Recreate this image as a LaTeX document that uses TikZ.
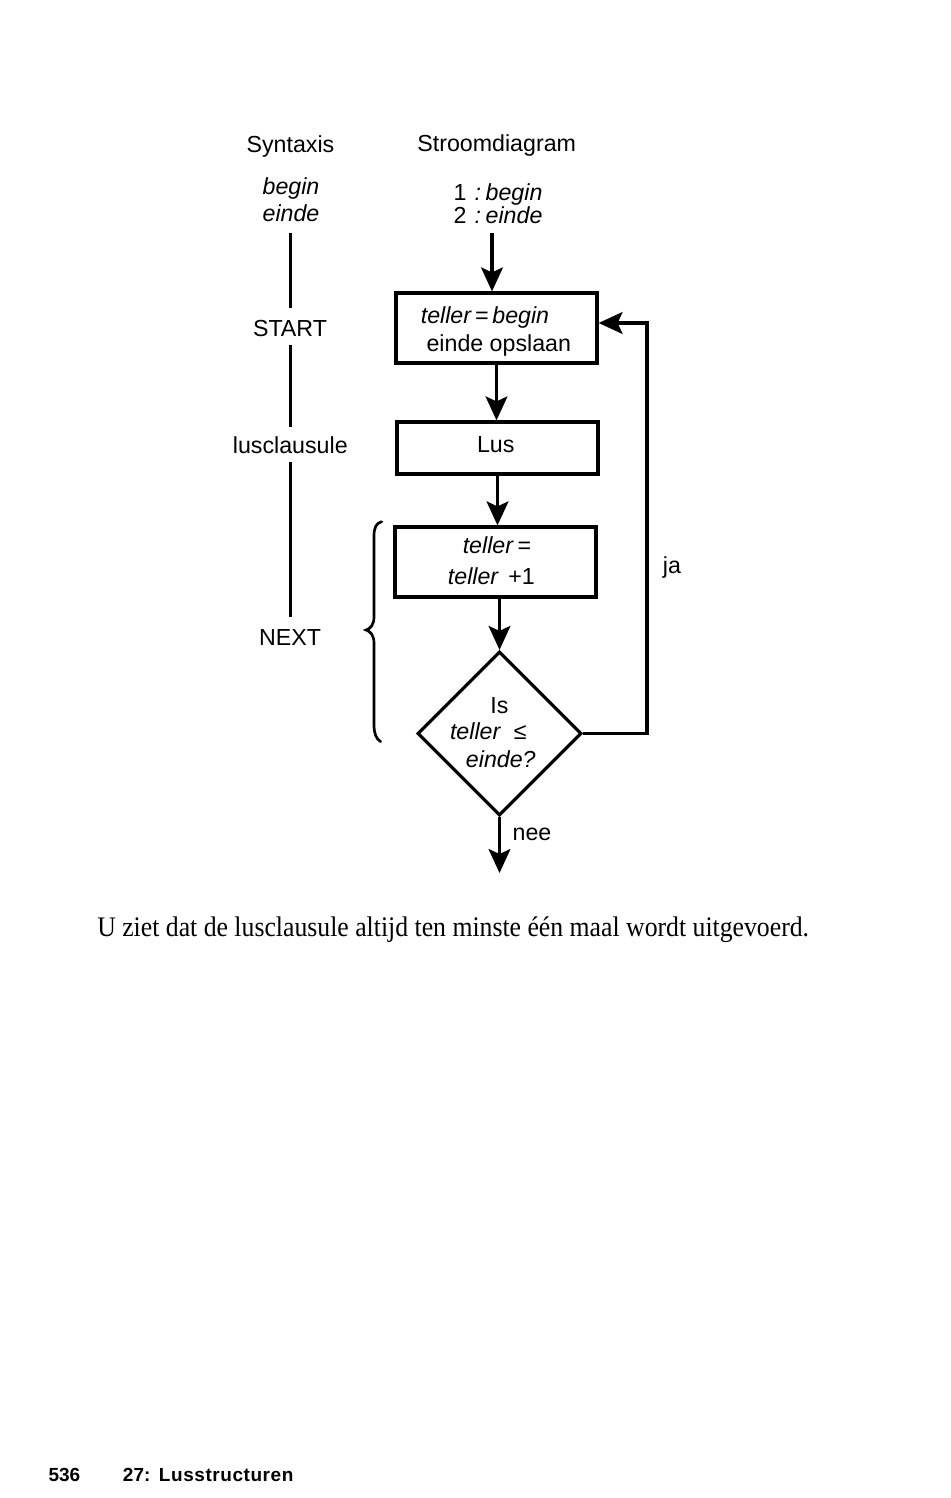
\documentclass[tikz,border=0pt]{standalone}
\usepackage{fontspec}
\setmainfont{Liberation Sans}
\newfontfamily\capserif{Liberation Serif}
\usetikzlibrary{arrows.meta,shapes.geometric}
\tikzset{
  lbl/.style={anchor=base, inner sep=0pt, font=\fontsize{16.5}{19}\selectfont},
  boxn/.style={draw, line width=2.3pt, inner sep=0pt},
  conn/.style={line width=2.3pt, line join=miter, -{Stealth[length=17pt,width=15.5pt,inset=3.5pt]}},
  synline/.style={line width=2.5pt},
  bracestyle/.style={line width=1.9pt, line cap=round},
  foot/.style={anchor=base west, inner sep=0pt, font=\fontsize{13.5}{16}\selectfont\bfseries},
}
\begin{document}
\begin{tikzpicture}[x=0.025cm,y=-0.025cm]
\useasboundingbox[fill=white] (0,0) rectangle (950,1498);

% headings
\node[lbl] (tsyn) at (290.5,152.7) {Syntaxis};
\node[lbl] (tstroom) at (496.7,151.3) {Stroomdiagram};
\node[lbl] (tbegin) at (291,195) {\itshape begin};
\node[lbl] (teinde) at (291,222) {\itshape einde};
\node[lbl] (tone) at (498,200.5) {1\hspace{0.35em}\textit{:\hspace{0.2em}begin}};
\node[lbl] (ttwo) at (498,223) {2\hspace{0.35em}\textit{:\hspace{0.2em}einde}};

% syntax column
\node[lbl] (tstart) at (290,336.7) {START};
\node[lbl] (tlus) at (290.3,453.3) {lusclausule};
\node[lbl] (tnext) at (290,645) {NEXT};
\coordinate (s1) at (290.5,233);
\coordinate (s2) at (290.5,308);
\coordinate (s3) at (290.5,345);
\coordinate (s4) at (290.5,427);
\coordinate (s5) at (290.5,462);
\coordinate (s6) at (290.5,617);
\draw[synline] (s1) -- (s2);
\draw[synline] (s3) -- (s4);
\draw[synline] (s5) -- (s6);

% boxes
\node[boxn, minimum width={201*0.025cm}, minimum height={70*0.025cm}] (box1) at (496.5,328) {};
\node[boxn, minimum width={201*0.025cm}, minimum height={52*0.025cm}] (box2) at (497.5,448) {};
\node[boxn, minimum width={201*0.025cm}, minimum height={70*0.025cm}] (box3) at (495.5,562) {};
\node[diamond, draw, line width=2.3pt, inner sep=0pt, minimum width={164*0.025cm}, minimum height={164*0.025cm}] (dec) at (499.5,733.5) {};

% box texts
\node[lbl] (tb1a) at (485,323.3) {\itshape teller\,=\,begin};
\node[lbl] (tb1b) at (498.8,351.7) {einde opslaan};
\node[lbl] (tb2) at (495.7,452.7) {Lus};
\node[lbl] (tb3a) at (497,553.3) {\textit{teller}\,=};
\node[lbl] (tb3b) at (491.3,584) {\textit{teller}\hspace{0.4em}+1};
\node[lbl] (td1) at (499.5,713.3) {Is};
\node[lbl] (td2) at (488.3,739.3) {\textit{teller}\hspace{0.55em}≤};
\node[lbl] (td3) at (500.8,767.3) {\itshape einde?};
\node[lbl] (tja) at (672,573) {ja};
\node[lbl] (tnee) at (532,840) {nee};

% connectors
\coordinate (a0) at (492,233);
\draw[conn] (a0) -- (a0 |- box1.north);
\draw[conn] (box1.south) -- (box1.south |- box2.north);
\draw[conn] (box2.south) -- (box2.south |- box3.north);
\draw[conn] (dec.north |- box3.south) -- (dec.north);
\coordinate (endp) at (499.5,873);
\draw[conn] (dec.south) -- (endp);
\coordinate (loopc) at (647,323);
\draw[conn] (dec.east) -- (dec.east -| loopc) -- (loopc) -- (loopc -| box1.east);

% brace
\draw[bracestyle] (381.7,521.7) .. controls (376,523) and (374,528) .. (374,536)
  -- (374,617) .. controls (374,625) and (370,629) .. (366,630)
  .. controls (370,631) and (374,635) .. (374,643)
  -- (374,725) .. controls (374,733) and (376,739) .. (380.7,741.7);

% caption
\node[anchor=base west, inner sep=0pt, font=\capserif\fontsize{18.3}{22}\selectfont, yscale=1.1] (cap) at (97,936)
  {U ziet dat de lusclausule altijd ten minste één maal wordt uitgevoerd.};

% footer
\node[foot] (fpage) at (48.3,1481.7) {536};
\node[foot] (fchap) at (122.7,1481.7) {27:\hspace{0.45em}{\addfontfeatures{LetterSpace=3}Lusstructuren}};
\end{tikzpicture}
\end{document}
